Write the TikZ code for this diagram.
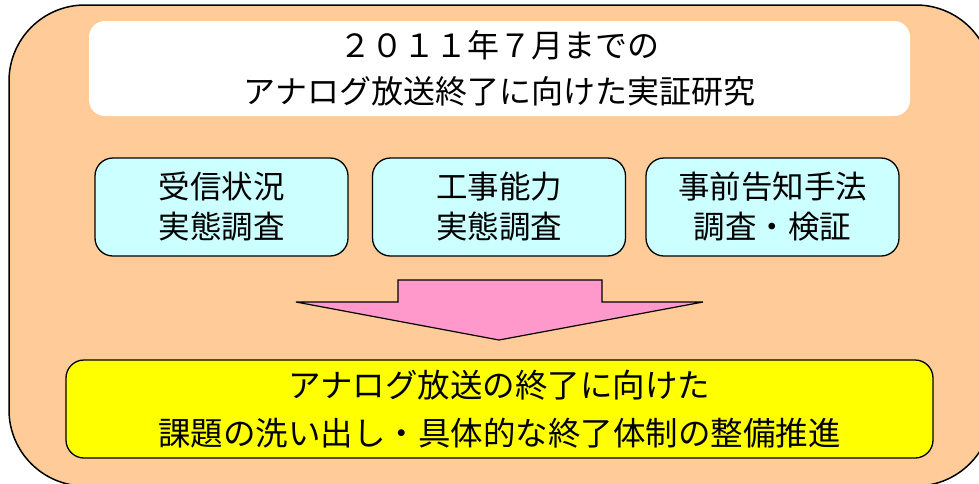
\documentclass[tikz,border=0pt]{standalone}
\usepackage{fontspec}
\newfontfamily\jp{Noto Sans CJK JP}
\definecolor{outerfill}{HTML}{FFCC99}
\definecolor{cyanfill}{HTML}{CCFFFF}
\definecolor{pinkfill}{HTML}{FF99CC}
\definecolor{yellowfill}{HTML}{FFFF00}
\begin{document}
\begin{tikzpicture}[x=1pt,y=-1pt,
  panel/.style={draw=black,line width=1.3pt,rounded corners=18pt,inner sep=0pt,outer sep=0pt,align=center},
  titlebox/.style={fill=white,rounded corners=16pt,inner sep=0pt,minimum width=821pt,minimum height=95pt,align=center,
    font=\jp\fontsize{32pt}{46pt}\selectfont},
  studybox/.style={panel,fill=cyanfill,minimum width=253pt,minimum height=98pt,font=\jp\fontsize{31.5pt}{40pt}\selectfont},
  goalbox/.style={panel,fill=yellowfill,minimum width=867pt,minimum height=98pt,font=\jp\fontsize{32.5pt}{48pt}\selectfont}]
\useasboundingbox (0,0) rectangle (979,483);
\begin{scope}
\clip (0,0) rectangle (979,483);
\draw[fill=outerfill,line width=1.5pt,rounded corners=76pt] (9,5) rectangle (992,486);
\end{scope}
\node[titlebox] (title) at (499.5,68.5) {２０１１年７月までの\\アナログ放送終了に向けた実証研究};
\node[studybox] (s1) at (221.5,207) {受信状況\\実態調査};
\node[studybox] (s2) at (499,207) {工事能力\\実態調査};
\node[studybox] (s3) at (772.5,207) {事前告知手法\\調査・検証};
\node[goalbox] (goal) at (499.5,409) {アナログ放送の終了に向けた\\課題の洗い出し・具体的な終了体制の整備推進};
\coordinate (aL) at (296,302);
\coordinate (aR) at (703,302);
\coordinate (aT) at (499,340);
\draw[fill=pinkfill,line width=1.2pt,line join=miter]
  (aL) -- (398,302) -- (398,280) -- (602,280) -- (602,302) -- (aR) -- (aT) -- cycle;
\end{tikzpicture}
\end{document}
